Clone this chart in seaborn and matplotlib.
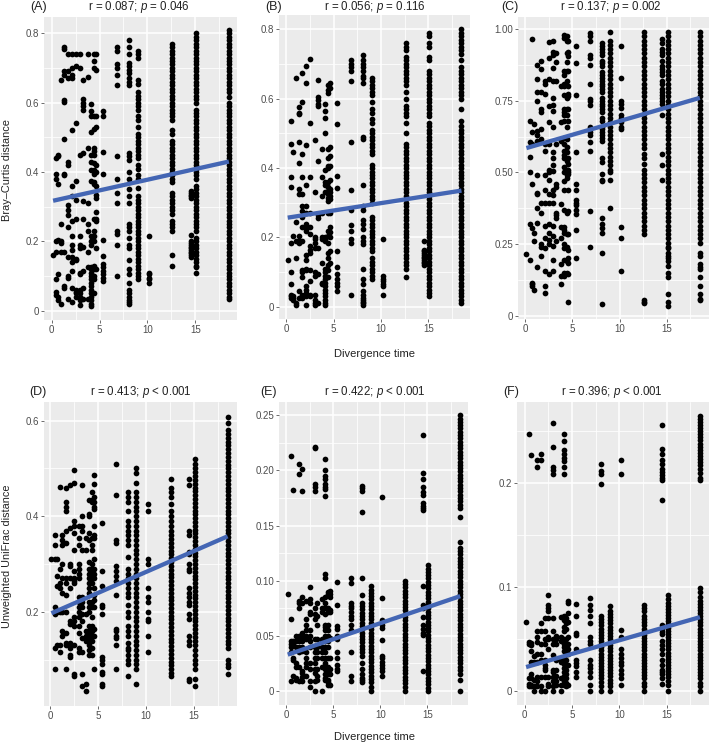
import matplotlib
matplotlib.use("Agg")
import matplotlib.pyplot as plt
import matplotlib.ticker as mtick
import pandas as pd
import seaborn as sns

# divergence times shared by all panels, one row per time in the lists below
times = [.15, .5, .7, 1.0, 1.3, 1.7, 2.1, 2.5, 3.0, 3.3, 3.8, 4.1, 4.4, 4.6, 5.4, 6.85, 8.1, 9.0, 10.2, 12.6, 14.5, 15.1, 18.5]

panel_a = [
    [.16],
    [.44, .395, .38, .2, .17, .09, .055, .045],
    [.45, .445, .365, .205, .105, .04, .03],
    [.665, .25, .2, .195, .17, .02],
    [.76, .755, .69, .68, .607, .603, .495, .395, .39, .07, .065, .17],
    [.74, .69, .67, .43, .42, .305, .29, .275, .24, .155, .1, .095, .035],
    [.74, .7, .68, .67, .52, .36, .33, .26, .215, .19, .175, .155, .14, .115, .065, .025],
    [.74, .705, .542, .375, .32, .265, .15, .145, .06, .055, .05, .04],
    [.74, .7, .45, .215, .19, .18, .11, .105, .06, .05, .04, .03, .015],
    [.665, .61, .6, .59, .58, .455, .315, .265, .185, .115, .065, .035],
    [.74, .675, .47, .31, .25, .23, .17, .125, .035],
    [.595, .575, .56, .515, .45, .43, .405, .375, .215, .2, .19, .125, .12, .11, .1, .09, .08, .07, .06, .05, .04, .03, .02, .012],
    [.74, .72, .7, .56, .525, .47, .46, .45, .425, .405, .395, .37, .365, .265, .23, .215, .2, .13, .12, .1, .09, .05],
    [.74, .695, .56, .53, .42, .4, .36, .335, .325, .285, .265, .26, .18, .12],
    [.575, .56, .457, .395, .205, .157, .135, .125, .115, .105, .095, .085],
    [.76, .75, .71, .7, .68, .65, .445, .38, .34, .31, .23, .22, .19, .1],
    [.78, .76, .74, .715, .705, .695, .685, .67, .66, .65, .455, .445, .435, .4, .38, .35, .33, .31, .25, .24, .23, .21, .19, .18, .145, .12, .105, .08, .06, .05, .04, .03, .025, .02],
    [.75, .74, .73, .665, .655, .63, .62, .61, .6, .59, .58, .56, .55, .53, .51, .5, .49, .48, .47, .46, .45, .44, .42, .41, .39, .38, .355, .33, .32, .31, .3, .29, .28, .27, .26, .25, .24, .23, .22, .21, .2, .19, .18, .17, .16, .15, .14, .13, .12, .11, .1, .09],
    [.215, .11, .105, .095, .09, .08],
    [.77, .76, .75, .74, .73, .72, .71, .7, .69, .68, .67, .66, .65, .64, .63, .62, .61, .6, .59, .58, .57, .56, .55, .52, .51, .49, .48, .47, .46, .45, .44, .43, .42, .41, .4, .39, .38, .37, .34, .33, .32, .31, .3, .29, .28, .26, .25, .24, .23, .16, .13],
    [.345, .34, .335, .33, .325, .218, .2, .195, .19, .185, .18, .175, .17, .165, .16, .155],
    [.8, .79, .78, .77, .76, .75, .74, .73, .72, .71, .7, .69, .68, .67, .66, .65, .64, .63, .62, .61, .6, .58, .57, .56, .55, .54, .53, .52, .51, .5, .49, .48, .47, .46, .45, .44, .43, .42, .41, .4, .39, .38, .36, .35, .34, .33, .32, .31, .3, .29, .28, .27, .26, .25, .24, .23, .21, .2, .19, .18, .17, .16, .15, .14, .13, .125, .11],
    [.81, .8, .79, .78, .77, .76, .75, .74, .73, .72, .71, .7, .69, .68, .67, .66, .65, .64, .63, .615, .6, .59, .58, .57, .56, .55, .54, .53, .52, .51, .5, .49, .48, .47, .46, .45, .44, .43, .42, .41, .4, .39, .38, .37, .36, .35, .34, .33, .32, .31, .3, .29, .28, .27, .26, .25, .24, .23, .22, .21, .2, .19, .18, .17, .16, .15, .14, .13, .12, .11, .1, .09, .08, .07, .06, .05, .04, .035],
]

panel_b = [
    [.135],
    [.535, .47, .375, .345, .185, .1, .065, .035, .03, .025],
    [.445, .205, .03, .025, .02],
    [.66, .245, .19, .14, .01, .005],
    [.575, .56, .555, .475, .415, .34, .325, .205, .19, .185, .045, .025],
    [.675, .59, .44, .375, .325, .29, .275, .26, .23, .19, .105, .1, .085, .035, .025],
    [.695, .645, .465, .35, .29, .27, .24, .23, .225, .22, .15, .135, .11, .105, .06, .05, .04, .03, .005],
    [.715, .53, .375, .27, .23, .21, .175, .165, .155, .105, .075, .035, .03],
    [.48, .33, .2, .195, .185, .17, .1, .09, .035, .02, .01, .005],
    [.655, .605, .595, .585, .58, .42, .265, .255, .17, .095, .01],
    [.455, .375, .32, .27, .2, .195, .125, .07, .065],
    [.585, .565, .545, .5, .395, .36, .35, .33, .2, .195, .19, .11, .1, .09, .08, .07, .06, .05, .04, .03, .02, .01, .005],
    [.64, .625, .615, .455, .43, .405, .4, .36, .345, .335, .325, .315, .305, .27, .22, .205, .185, .155, .14, .12, .105, .085],
    [.645, .63, .46, .435, .405, .365, .34, .33, .32, .31, .27, .23, .215, .2, .16, .125],
    [.587, .528, .377, .342, .16, .115, .095, .08, .07, .06, .045],
    [.71, .7, .69, .68, .65, .475, .337, .28, .235, .22, .195, .185, .033],
    [.725, .71, .7, .69, .68, .665, .66, .645, .49, .485, .35, .29, .28, .25, .24, .225, .2, .19, .18, .11, .08, .065, .045, .035, .025, .02, .015, .01, .005],
    [.66, .65, .64, .63, .62, .61, .59, .57, .56, .54, .53, .51, .5, .49, .48, .47, .46, .45, .44, .41, .4, .39, .38, .37, .36, .35, .34, .33, .32, .31, .3, .26, .25, .24, .23, .22, .21, .2, .19, .18, .17, .16, .14, .13, .12, .11, .1, .09, .08],
    [.195, .09, .08, .075, .065, .06, .035],
    [.76, .75, .74, .72, .71, .7, .69, .68, .67, .66, .65, .64, .62, .6, .58, .57, .56, .55, .53, .5, .47, .46, .45, .44, .43, .42, .41, .4, .39, .38, .37, .36, .35, .34, .33, .32, .31, .3, .29, .28, .27, .26, .25, .24, .23, .22, .21, .2, .19, .18, .17, .16, .15, .14, .13, .12, .11, .085],
    [.19, .165, .16, .155, .15, .145, .14, .135, .13, .125, .12],
    [.79, .78, .76, .75, .72, .71, .68, .67, .66, .65, .64, .63, .62, .61, .6, .59, .58, .57, .56, .55, .53, .52, .51, .5, .49, .48, .47, .46, .45, .44, .43, .42, .41, .4, .39, .38, .37, .36, .35, .34, .33, .32, .31, .3, .29, .28, .27, .26, .25, .24, .23, .22, .21, .2, .19, .18, .17, .16, .15, .14, .13, .12, .11, .1, .09, .08, .07, .06, .05, .04, .03],
    [.8, .79, .78, .77, .76, .75, .74, .73, .71, .69, .68, .67, .66, .65, .64, .63, .62, .61, .6, .57, .535, .52, .51, .5, .49, .48, .47, .46, .45, .44, .43, .42, .41, .4, .39, .38, .37, .36, .35, .34, .33, .32, .31, .3, .29, .28, .27, .26, .25, .24, .23, .22, .21, .2, .19, .18, .17, .16, .15, .14, .13, .12, .11, .1, .09, .08, .07, .06, .05, .04, .03, .02, .01],
]

panel_c = [
    [.215],
    [.68, .605, .555, .5, .32, .195],
    [.965, .64, .6, .46, .305, .115, .11, .105],
    [.67, .29, .26, .09],
    [.875, .825, .78, .75, .645, .63, .61, .49, .43, .425, .375, .325, .17],
    [.89, .86, .78, .72, .71, .65, .615, .395, .36, .25, .24, .21],
    [.82, .81, .775, .6, .575, .49, .44, .395, .315, .27, .235, .155, .105, .08],
    [.955, .9, .825, .73, .675, .6, .51, .5, .475, .425, .395, .32, .29, .265, .25, .145],
    [.96, .92, .91, .865, .82, .76, .735, .715, .66, .57, .55, .525, .505, .44, .42, .395, .315, .28, .245, .195, .155],
    [.915, .885, .82, .6, .46, .45, .36, .35, .34, .26],
    [.8, .675, .61, .39, .31, .27, .18, .14, .11],
    [.98, .97, .855, .84, .81, .8, .77, .72, .71, .7, .68, .62, .6, .575, .56, .55, .52, .5, .47, .44, .37, .31, .3, .29, .25, .235, .195, .15, .14],
    [.975, .96, .915, .885, .855, .82, .76, .72, .7, .66, .615, .59, .57, .54, .51, .49, .48, .36, .285, .24, .19, .15],
    [.96, .92, .905, .855, .8, .775, .765, .72, .68, .55, .53, .51, .5, .495, .44, .365, .285, .23, .2, .185, .145, .05],
    [.94, .88, .77, .57, .46, .44, .405, .395, .385, .37, .355, .3, .2],
    [.985, .975, .96, .91, .9, .875, .81, .755, .75, .735, .66, .64, .63, .605, .575, .365, .24],
    [.95, .94, .93, .92, .91, .89, .88, .87, .85, .84, .83, .82, .81, .8, .79, .78, .76, .75, .74, .73, .72, .71, .69, .68, .66, .65, .64, .63, .62, .61, .55, .535, .495, .475, .47, .34, .32, .305, .29, .22, .04],
    [.99, .96, .945, .93, .915, .9, .885, .87, .855, .84, .825, .81, .795, .78, .765, .75, .735, .72, .705, .69, .675, .66, .645, .63, .615, .6, .585, .57, .555, .54, .525, .51, .5, .475, .375],
    [.94, .83, .75, .74, .725, .7, .69, .675, .66, .65, .31, .27, .155],
    [.99, .975, .96, .945, .93, .915, .9, .885, .87, .855, .84, .825, .81, .795, .78, .765, .75, .735, .72, .705, .69, .675, .66, .645, .63, .615, .6, .585, .565, .55, .53, .51, .495, .48, .465, .45, .435, .42, .405, .39, .375, .36, .345, .33, .315, .3, .285, .055, .05, .045],
    [.965, .95, .93, .92, .91, .89, .87, .86, .85, .84, .82, .81, .79, .78, .77, .76, .75, .74, .7, .565, .525, .475],
    [.99, .975, .96, .945, .93, .915, .9, .885, .87, .855, .84, .825, .81, .795, .78, .765, .75, .735, .72, .705, .69, .675, .66, .645, .63, .615, .6, .585, .57, .555, .54, .525, .51, .495, .48, .465, .45, .435, .42, .405, .39, .375, .36, .345, .33, .315, .3, .285, .27, .255, .24, .235, .22, .21, .2, .19, .175, .15, .135, .075, .05, .035],
    [.99, .975, .96, .945, .93, .915, .9, .885, .87, .855, .84, .825, .81, .795, .78, .765, .75, .735, .72, .705, .69, .675, .66, .645, .63, .615, .6, .585, .57, .555, .54, .525, .51, .495, .48, .465, .45, .435, .42, .405, .39, .375, .36, .345, .33, .315, .3, .285, .27, .255, .22, .21, .18, .17, .165, .135, .105, .075, .06, .055],
]

panel_d = [
    [.31],
    [.36, .34, .31, .21, .2, .195, .125, .08],
    [.31, .275, .255, .2, .13],
    [.462, .29, .26, .25, .2, .13, .115],
    [.36, .35, .34, .3, .27, .24, .2, .16, .15],
    [.46, .43, .42, .41, .37, .345, .27, .26, .235, .2, .155, .135, .13, .08],
    [.465, .375, .3, .295, .27, .25, .18, .175, .135, .125, .11, .105],
    [.497, .47, .39, .38, .365, .33, .285, .27, .265, .26, .19, .18, .17, .13, .07, .065],
    [.38, .355, .34, .3, .29, .28, .27, .23, .22, .21, .2, .19, .17, .155, .125, .115],
    [.465, .4, .38, .37, .33, .23, .22, .21, .195, .18, .145, .115, .07, .045],
    [.355, .33, .195, .16, .15, .14, .05, .035],
    [.435, .405, .4, .365, .35, .305, .29, .28, .27, .26, .25, .24, .22, .21, .2, .17, .16, .15, .14, .13, .12, .11],
    [.45, .435, .43, .355, .34, .33, .3, .29, .28, .27, .26, .22, .21, .19, .17, .16, .15, .14, .125, .11],
    [.487, .468, .44, .43, .42, .415, .38, .36, .355, .31, .29, .28, .27, .25, .235, .225, .21, .165, .15, .08],
    [.385, .285, .255, .215, .21, .195, .105, .1, .09, .075, .07, .05, .045],
    [.51, .445, .35, .345, .295, .285, .275, .265, .235, .165, .16, .15, .145, .13, .08],
    [.45, .44, .43, .41, .39, .38, .37, .36, .35, .34, .315, .29, .28, .27, .26, .25, .24, .23, .215, .2, .19, .17, .16, .15, .135, .125, .12, .11, .1, .09, .065],
    [.5, .49, .47, .45, .44, .43, .42, .41, .4, .39, .38, .37, .36, .35, .34, .33, .32, .31, .3, .29, .28, .27, .26, .25, .24, .23, .22, .21, .2, .19, .18, .17, .16, .15, .14, .13, .12, .11, .1, .09, .08, .05],
    [.425, .41, .31, .3, .25, .23, .22, .2, .185, .18, .15, .115],
    [.477, .46, .45, .44, .425, .41, .4, .39, .38, .37, .36, .352, .344, .336, .328, .32, .312, .304, .296, .288, .28, .272, .264, .256, .248, .24, .232, .224, .216, .208, .2, .192, .184, .176, .168, .16, .152, .144, .136, .128, .12, .112, .104, .096, .088, .08, .072, .065],
    [.478, .465, .37, .36, .325, .32, .3, .29, .285, .25, .24, .23, .22, .215, .195, .185, .15, .14, .13, .06, .055],
    [.52, .51, .5, .492, .484, .476, .468, .46, .452, .444, .436, .428, .42, .412, .404, .396, .388, .38, .372, .364, .356, .348, .34, .332, .324, .316, .308, .3, .292, .284, .276, .268, .26, .252, .244, .236, .228, .22, .212, .204, .196, .188, .18, .172, .164, .156, .148, .14, .13, .12, .11, .1, .09, .08, .06, .045],
    [.607, .595, .58, .572, .564, .556, .548, .54, .532, .524, .516, .508, .5, .492, .484, .476, .468, .46, .452, .444, .436, .428, .42, .412, .404, .396, .388, .38, .372, .364, .356, .348, .34, .332, .324, .316, .308, .3, .292, .284, .276, .268, .26, .252, .244, .236, .228, .22, .212, .204, .196, .188, .18, .172, .164, .156, .148, .14, .132, .125, .1, .09, .085, .07],
]

panel_e = [
    [.088],
    [.213, .065, .045, .043, .04, .035, .009],
    [.182, .045, .042, .03, .028, .014],
    [.05, .045, .04, .025, .022, .012, .01],
    [.206, .197, .082, .08, .075, .05, .045, .04, .035, .022, .009],
    [.201, .181, .085, .08, .053, .048, .045, .04, .036, .018, .016, .013, .009],
    [.082, .065, .06, .055, .05, .047, .035, .03, .025, .022, .014],
    [.094, .083, .08, .072, .07, .055, .05, .045, .04, .025, .02, .009, .004],
    [.221, .22, .188, .185, .181, .075, .07, .065, .047, .04, .035, .03, .025, .02, .016, .009, 0],
    [.08, .068, .06, .047, .04, .035, .03, .02, .014, .01],
    [.083, .075, .072, .047, .045, .04, .035, .03, .022, 0],
    [.21, .2, .195, .192, .188, .185, .183, .177, .106, .102, .085, .08, .075, .07, .06, .058, .055, .05, .045, .04, .035, .03, .025, .022, .02, .015, .012, .01],
    [.09, .088, .075, .072, .06, .055, .05, .045, .04, .03, .022, .02, .015, .01, .008, .005],
    [.091, .088, .085, .073, .072, .048, .03, .02, .015, .005],
    [.099, .078, .059, .056, .05, .047, .035, .03, .024, .02, .018],
    [.102, .098, .08, .077, .075, .072, .068, .065, .06, .055, .035, .014, .009],
    [.186, .184, .181, .162, .102, .087, .08, .077, .074, .071, .068, .065, .062, .059, .056, .053, .05, .047, .044, .041, .038, .035, .032, .025, .02, .015, .012, .01, .008],
    [.095, .092, .089, .086, .083, .08, .077, .074, .071, .068, .065, .062, .059, .056, .053, .05, .047, .044, .041, .038, .035, .032, .029, .026, .023, .02, .017, .014, .011, .008, .004, 0],
    [.176, .084, .064, .06, .057, .046, .032, .03, .026, .024, .021, .018, .014],
    [.1, .097, .094, .091, .088, .085, .082, .079, .076, .073, .07, .067, .064, .061, .058, .055, .052, .049, .046, .043, .04, .037, .034, .031, .028, .025, .022, .019, .016, .013, .01, .007, .004, 0],
    [.232, .198, .192, .185, .18, .178, .17, .168, .166, .164, .095, .078, .075, .067, .06, .056, .053, .051, .018],
    [.114, .111, .108, .105, .102, .099, .096, .093, .09, .087, .084, .081, .078, .075, .072, .069, .066, .063, .06, .057, .054, .051, .048, .045, .042, .039, .036, .033, .03, .027, .024, .021, .018, .015, .012, .009, .006, .003, 0],
    [.25, .247, .244, .241, .238, .235, .232, .229, .226, .223, .22, .217, .214, .211, .208, .205, .202, .199, .196, .193, .19, .187, .184, .181, .178, .175, .172, .169, .166, .158, .135, .13, .127, .124, .121, .118, .115, .112, .109, .106, .103, .1, .097, .094, .091, .088, .085, .082, .079, .076, .073, .07, .067, .064, .061, .058, .055, .052, .049, .046, .043, .04, .037, .034, .031, .028, .025, .022, .019, .015, .01, 0],
]

panel_f = [
    [.066],
    [.247, .047, .045, .012, .007, .005],
    [.227, .046, .044, .038, .028, .016, .012, .006, .005],
    [.034, .028, .011, .005, 0],
    [.222, .215, .058, .052, .047, .036, .028, .013, .01, .005],
    [.228, .222, .065, .058, .045, .036, .03, .013, .005, 0],
    [.07, .058, .05, .045, .03, .025, .022, .02, .013, 0],
    [.092, .083, .08, .077, .07, .052, .05, .04, .013, .007, .005],
    [.258, .235, .215, .213, .209, .07, .058, .05, .045, .035, .02, .018, .013, .01, .005, 0],
    [.053, .05, .045, .03, .02, .014, .01, .006],
    [.071, .052, .048, .03, .028, .012, .006, 0],
    [.247, .24, .232, .228, .224, .221, .215, .209, .072, .068, .062, .058, .05, .045, .042, .038, .033, .03, .026, .022, .018, .014, .01, .006],
    [.07, .065, .06, .05, .045, .042, .04, .037, .03, .024, .02, .016, .012, .008, .005],
    [.087, .085, .075, .066, .052, .045, .04, .036, .025, .006],
    [.084, .072, .056, .054, .04, .03, .027, .024, .018, .013],
    [.089, .083, .078, .072, .065, .052, .048, .045, .03, .025, .022, .018, .013, .006, 0],
    [.218, .212, .209, .199, .072, .069, .066, .063, .06, .057, .054, .051, .048, .045, .042, .039, .036, .033, .03, .027, .024, .021, .018, .015, .012, .009, .005, 0],
    [.082, .077, .074, .071, .068, .065, .062, .059, .056, .053, .05, .047, .044, .041, .038, .035, .032, .029, .026, .023, .02, .017, .014, .011, .008, .005, 0],
    [.222, .209, .059, .052, .04, .036, .032, .028, .025, .02, .016, .012, .006],
    [.083, .08, .077, .072, .069, .066, .063, .06, .057, .054, .051, .048, .045, .042, .039, .036, .033, .03, .027, .024, .021, .018, .015, .012, .008, .005, 0],
    [.256, .233, .228, .222, .218, .214, .211, .208, .205, .203, .184, .063, .06, .057, .055, .048, .044, .04, .036, .03, .025, .02, .018, .016, .012, .007],
    [.092, .088, .085, .082, .079, .076, .073, .07, .067, .064, .061, .058, .055, .052, .049, .046, .043, .04, .037, .034, .031, .028, .025, .022, .019, .016, .013, .01, .006, 0],
    [.265, .262, .259, .256, .253, .25, .247, .244, .241, .238, .235, .232, .229, .226, .223, .22, .217, .214, .21, .205, .203, .099, .095, .09, .087, .084, .081, .078, .075, .072, .069, .066, .063, .06, .057, .054, .051, .048, .045, .042, .039, .036, .033, .03, .027, .024, .021, .018, .015, .012, .008, .005, 0],
]

# fitted line ends
trend_x = [.15, 18.5]
trend_a = [.317, .43]
trend_b = [.257, .335]
trend_c = [.585, .76]
trend_d = [.197, .358]
trend_e = [.033, .086]
trend_f = [.023, .071]

letters = ["(A)", "(B)", "(C)", "(D)", "(E)", "(F)"]
stats = ["r = 0.087; $p$ = 0.046", "r = 0.056; $p$ = 0.116", "r = 0.137; $p$ = 0.002",
         "r = 0.413; $p$ < 0.001", "r = 0.422; $p$ < 0.001", "r = 0.396; $p$ < 0.001"]

W, H = 709, 743
# pixel box of each panel, then x and y limits, y tick step, y tick format
layout = [
    ((44, 17, 237, 320), (-.8, 19.35), (-.027, .847), .2, "{:.1f}"),
    ((279, 15, 470, 319), (-.77, 19.4), (-.035, .841), .2, "{:.1f}"),
    ((518, 17, 709, 319), (-.74, 19.47), (-.011, 1.042), .25, "{:.2f}"),
    ((44, 402, 237, 706), (-.625, 19.48), (.003, .639), .2, "{:.1f}"),
    ((279, 402, 468, 705), (-.78, 19.33), (-.0127, .262), .05, "{:.2f}"),
    ((517, 402, 709, 705), (-.81, 19.46), (-.0135, .278), .1, "{:.1f}"),
]
# pixel anchors of the panel letters and r/p titles
letter_pos = [(30, 7), (265, 7), (501, 7), (29, 392), (260, 392), (503, 392)]
title_pos = [(139, 7), (375, 7), (611, 7), (141, 392), (375, 392), (612, 392)]

sns.set_theme(style="darkgrid", rc={"axes.facecolor": "#EBEBEB", "grid.color": "white"})
plt.rcParams["font.family"] = ["Liberation Sans", "DejaVu Sans"]
plt.rcParams["mathtext.fontset"] = "custom"
plt.rcParams["mathtext.it"] = "Liberation Sans:italic"
plt.rcParams["mathtext.rm"] = "Liberation Sans"

fig = plt.figure(figsize=(W / 100, H / 100), dpi=100)

panels = [panel_a, panel_b, panel_c, panel_d, panel_e, panel_f]
trends = [trend_a, trend_b, trend_c, trend_d, trend_e, trend_f]

for i, (ys, trend, cfg) in enumerate(zip(panels, trends, layout)):
    (x0, y0, x1, y1), xlim, ylim, step, fmt = cfg
    ax = fig.add_axes([x0 / W, 1 - y1 / H, (x1 - x0) / W, (y1 - y0) / H])
    df = pd.DataFrame({"time": times, "dist": ys}).explode("dist")
    df["dist"] = df["dist"].astype(float)
    sns.scatterplot(data=df, x="time", y="dist", ax=ax, color="black", s=17, linewidth=0, zorder=3)
    sns.lineplot(x=trend_x, y=trend, ax=ax, color="#4466B4", linewidth=3.1, zorder=4, solid_capstyle="butt")

    ax.set_xlim(xlim)
    ax.set_ylim(ylim)
    ax.set_xlabel("")
    ax.set_ylabel("")
    ax.xaxis.set_major_locator(mtick.MultipleLocator(5))
    ax.xaxis.set_minor_locator(mtick.MultipleLocator(2.5))
    ax.yaxis.set_major_locator(mtick.MultipleLocator(step))
    ax.yaxis.set_minor_locator(mtick.MultipleLocator(step / 2))
    ax.yaxis.set_major_formatter(mtick.FuncFormatter(
        lambda v, _, f=fmt: "0" if abs(v) < 1e-9 else f.format(v)))
    ax.grid(which="major", color="white", linewidth=1.1)
    ax.grid(which="minor", color="white", linewidth=.55)
    ax.tick_params(which="major", length=2, width=.6, color="#555555", labelsize=7,
                   labelcolor="#4D4D4D", pad=1.5, bottom=True, left=True)
    ax.tick_params(which="minor", length=0)
    for s in ax.spines.values():
        s.set_visible(False)

    fig.text(title_pos[i][0] / W, 1 - title_pos[i][1] / H, stats[i], ha="center", va="center", fontsize=8.3, color="#222222")
    fig.text(letter_pos[i][0] / W, 1 - letter_pos[i][1] / H, letters[i], ha="left", va="center", fontsize=9, color="#222222")

fig.text(7 / W, 1 - 170 / H, "Bray–Curtis distance", rotation=90, ha="center", va="center", fontsize=7.9, color="#222222")
fig.text(7 / W, 1 - 556 / H, "Unweighted UniFrac distance", rotation=90, ha="center", va="center", fontsize=7.8, color="#222222")
fig.text(375 / W, 1 - 354 / H, "Divergence time", ha="center", va="center", fontsize=8, color="#222222")
fig.text(375 / W, 1 - 737 / H, "Divergence time", ha="center", va="center", fontsize=8, color="#222222")

fig.savefig("out.png", dpi=100)
